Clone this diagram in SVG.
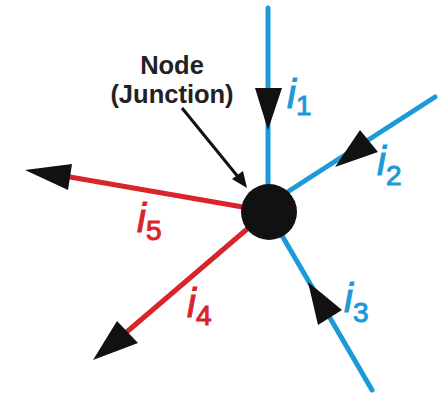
<svg xmlns="http://www.w3.org/2000/svg" width="443" height="395" viewBox="0 0 443 395">
<style>
.blue{stroke:#1c9ad8;stroke-width:5;fill:none;stroke-linecap:round}
.red{stroke:#d8252b;stroke-width:5;fill:none;stroke-linecap:round}
.head{fill:#111}
.lb{fill:#1c9ad8;stroke:#1c9ad8;stroke-width:1}
.lr{fill:#d8252b;stroke:#d8252b;stroke-width:1}
.i{font-family:"Liberation Sans",Arial,sans-serif;font-style:italic;font-size:40px}
.sub{font-family:"Liberation Sans",Arial,sans-serif;font-size:28px;font-style:normal}
.title{font-family:"Liberation Sans",Arial,sans-serif;font-weight:bold;font-size:25.5px;fill:#222;text-anchor:middle}
</style>
<rect width="443" height="395" fill="#fff"/>
<g id="connectors">
  <line class="blue" x1="268" y1="8" x2="268" y2="200"/>
  <polygon class="head" points="255,88 282,88 268,130"/>
  <line class="blue" x1="435" y1="97" x2="275" y2="200"/>
  <polygon class="head" points="360,130 378,152 335,167"/>
  <line class="blue" x1="270" y1="215" x2="372" y2="390"/>
  <polygon class="head" points="318,325 342,310 308,282"/>
  <line class="red" x1="260" y1="210" x2="70" y2="177"/>
  <polygon class="head" points="72,164 68,190 25,170"/>
  <line class="red" x1="260" y1="218" x2="122" y2="336"/>
  <polygon class="head" points="117,321 138,343 93,360"/>
  <line x1="182" y1="108" x2="239" y2="178" stroke="#111" stroke-width="3"/>
  <polygon class="head" points="232,179 243,171 247,188"/>
</g>
<g id="node">
  <circle cx="269" cy="212" r="28" fill="#111"/>
  <text class="title" x="172" y="74">Node</text>
  <text class="title" x="172" y="103">(Junction)</text>
</g>
<g id="labels">
  <text class="i lb" x="287" y="108">i<tspan class="sub" dy="7">1</tspan></text>
  <text class="i lb" x="377" y="175">i<tspan class="sub" dy="10">2</tspan></text>
  <text class="i lb" x="344" y="312">i<tspan class="sub" dy="10">3</tspan></text>
  <text class="i lr" x="137" y="232">i<tspan class="sub" dy="8">5</tspan></text>
  <text class="i lr" x="187" y="317">i<tspan class="sub" dy="8">4</tspan></text>
</g>
</svg>
